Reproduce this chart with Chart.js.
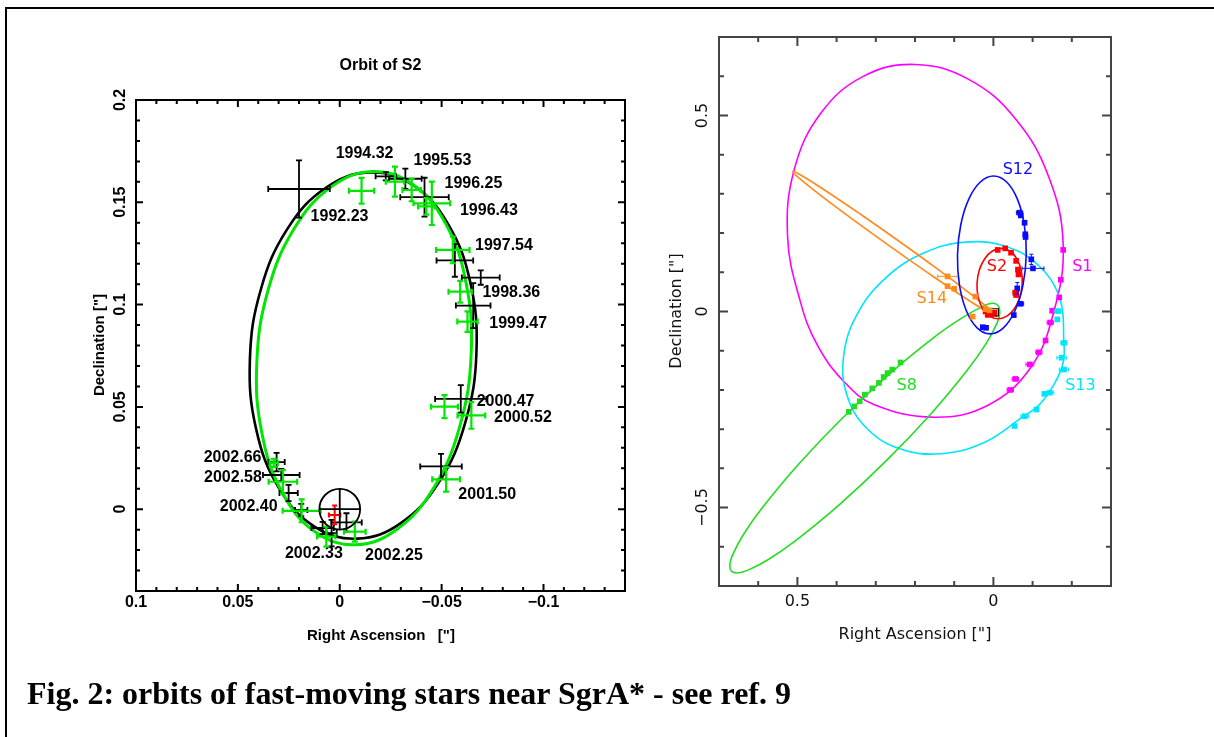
<!DOCTYPE html>
<html><head><meta charset="utf-8">
<script src="https://cdn.jsdelivr.net/npm/chart.js@4.4.0/dist/chart.umd.min.js"></script>
<style>
html,body{margin:0;padding:0;background:#fff;}
#wrap{position:relative;width:1214px;height:737px;overflow:hidden;background:#fff;}
canvas{position:absolute;left:0;top:0;}
#frame{position:absolute;left:5px;top:7px;width:1220px;height:740px;border-left:2px solid #000;border-top:2px solid #000;}
#caption{position:absolute;left:27px;top:677px;font:bold 32px "Liberation Serif","Times New Roman",serif;line-height:32px;color:#000;white-space:nowrap;}
</style></head>
<body>
<div id="wrap">
<div id="frame"></div>
<canvas id="left" width="1214" height="737"></canvas>
<canvas id="right" width="1214" height="737"></canvas>
<div id="caption">Fig. 2: orbits of fast-moving stars near SgrA* - see ref. 9</div>
</div>
<script>
// ---------------- LEFT PANEL DATA (Orbit of S2) ----------------
const s2FitBlackRA  = [0.0441,0.0387,0.0257,0.0070,-0.0145,-0.0356,-0.0529,-0.0640,-0.0671,-0.0617,-0.0487,-0.0300,-0.0085,0.0126,0.0299,0.0410];
const s2FitBlackDec = [0.0731,0.1075,0.1370,0.1570,0.1646,0.1586,0.1398,0.1112,0.0771,0.0427,0.0132,-0.0068,-0.0144,-0.0084,0.0104,0.0390];
const s2FitGreenRA  = [0.0407,0.0352,0.0225,0.0045,-0.0159,-0.0357,-0.0519,-0.0620,-0.0645,-0.0590,-0.0463,-0.0283,-0.0079,0.0119,0.0281,0.0382];
const s2FitGreenDec = [0.0718,0.1069,0.1369,0.1573,0.1650,0.1588,0.1397,0.1106,0.0758,0.0408,0.0107,-0.0097,-0.0174,-0.0112,0.0079,0.0371];

const blackRA     = [0.0200,-0.0226,-0.0322,-0.0416,-0.0565,-0.0692,-0.0655,-0.0594,-0.0497,0.0310,0.0287,0.0251,0.0189,0.0084,0.0040,-0.0033];
const blackDec    = [0.1565,0.1627,0.1615,0.1525,0.1216,0.1132,0.0995,0.0539,0.0209,0.0230,0.0167,0.0079,-0.0004,-0.0092,-0.0117,-0.0065];
const blackErrRA  = [0.0151,0.0050,0.0080,0.0119,0.0090,0.0093,0.0085,0.0126,0.0102,0.0040,0.0090,0.0045,0.0030,0.0055,0.0025,0.0075];
const blackErrDec = [0.0140,0.0020,0.0050,0.0095,0.0080,0.0035,0.0110,0.0067,0.0061,0.0045,0.0030,0.0040,0.0030,0.0030,0.0065,0.0045];

const greenRA     = [-0.0107,-0.0271,-0.0353,-0.0452,-0.0425,-0.0555,-0.0591,-0.0627,-0.0514,-0.0646,-0.0522,0.0324,0.0279,0.0187,0.0066,-0.0074];
const greenDec    = [0.1556,0.1601,0.1560,0.1495,0.1480,0.1267,0.1063,0.0917,0.0501,0.0458,0.0146,0.0226,0.0134,-0.0008,-0.0134,-0.0110];
const greenErrRA  = [0.0062,0.0045,0.0045,0.0090,0.0040,0.0082,0.0057,0.0050,0.0066,0.0068,0.0068,0.0020,0.0070,0.0093,0.0045,0.0053];
const greenErrDec = [0.0063,0.0073,0.0055,0.0106,0.0040,0.0065,0.0053,0.0050,0.0056,0.0065,0.0060,0.0020,0.0057,0.0056,0.0049,0.0049];

const redRA = [0.0025], redDec = [-0.0028], redErrRA = [0.0028], redErrDec = [0.0046];
const sgrRA = 0, sgrDec = 0, sgrRadius = 0.01;

const s2Labels   = ["1994.32","1995.53","1996.25","1996.43","1992.23","1997.54","1998.36","1999.47","2000.47","2000.52","2001.50","2002.66","2002.58","2002.40","2002.33","2002.25"];
const s2LabelRA  = [0.0020,-0.0362,-0.0514,-0.0590,0.0143,-0.0664,-0.0700,-0.0734,-0.0672,-0.0757,-0.0582,0.0668,0.0666,0.0589,0.0269,-0.0124];
const s2LabelDec = [0.1736,0.1706,0.1593,0.1459,0.1431,0.1286,0.1060,0.0905,0.0524,0.0446,0.0069,0.0252,0.0155,0.0015,-0.0215,-0.0229];

const leftXTicks = [0.1,0.05,0,-0.05,-0.1];
const leftXTickLabels = ["0.1","0.05","0","\u22120.05","\u22120.1"];
const leftXMinor = [0.09,0.08,0.07,0.06,0.04,0.03,0.02,0.01,-0.01,-0.02,-0.03,-0.04,-0.06,-0.07,-0.08,-0.09,-0.11,-0.12,-0.13];
const leftYTicks = [0,0.05,0.1,0.15,0.2];
const leftYTickLabels = ["0","0.05","0.1","0.15","0.2"];
const leftYMinor = [-0.03,-0.02,-0.01,0.01,0.02,0.03,0.04,0.06,0.07,0.08,0.09,0.11,0.12,0.13,0.14,0.16,0.17,0.18,0.19];

// ---------------- RIGHT PANEL DATA (several stars) ----------------
const s1OrbitRA  = [0.525,0.5082,0.4404,0.332,0.1995,0.063,-0.0566,-0.1413,-0.178,-0.153,-0.0934,0.015,0.151,0.305,0.382,0.450,0.493];
const s1OrbitDec = [0.190,0.3614,0.5053,0.5996,0.630,0.592,0.4911,0.343,0.170,-0.005,-0.1453,-0.2396,-0.2695,-0.237,-0.178,-0.084,0.027];
const s2OrbitRA  = [0.0418,0.0359,0.0221,0.0025,-0.0199,-0.0417,-0.0595,-0.0707,-0.0736,-0.0677,-0.0539,-0.0343,-0.0119,0.0099,0.0277,0.0389];
const s2OrbitDec = [0.0712,0.1056,0.1347,0.1542,0.1610,0.1542,0.1347,0.1056,0.0712,0.0368,0.0077,-0.0118,-0.0186,-0.0118,0.0077,0.0368];
const s12OrbitRA  = [0.0916,0.0832,0.0628,0.0334,-0.0005,-0.0338,-0.0612,-0.0788,-0.0838,-0.0754,-0.0550,-0.0256,0.0083,0.0416,0.0690,0.0866];
const s12OrbitDec = [0.1443,0.2213,0.2866,0.3303,0.3456,0.3303,0.2866,0.2213,0.1443,0.0673,0.0020,-0.0417,-0.0570,-0.0417,0.0020,0.0673];
const s13OrbitRA  = [0.3821,0.3485,0.2773,0.1792,0.0693,-0.0358,-0.1199,-0.1703,-0.1795,-0.178,-0.155,-0.115,-0.0747,0.0234,0.1333,0.2384,0.3225,0.3729];
const s13OrbitDec = [-0.1138,-0.0089,0.0832,0.1485,0.1770,0.1645,0.1128,0.0299,-0.0718,-0.130,-0.185,-0.240,-0.2688,-0.3341,-0.3626,-0.3501,-0.2984,-0.2155];
const s8OrbitRA  = [0.6681,0.6724,0.6664,0.6381,0.5887,0.4959,0.3829,0.2633,0.1515,0.0809,0.0272,0.0026,-0.0121,-0.0164,-0.0104,0.0179,0.0673,0.1601,0.2731,0.3927,0.5045,0.5751,0.6288,0.6534];
const s8OrbitDec = [-0.6622,-0.6475,-0.6230,-0.5694,-0.4994,-0.3882,-0.2696,-0.1576,-0.0658,-0.0170,0.0130,0.0210,0.0150,-0.0025,-0.0270,-0.0806,-0.1506,-0.2618,-0.3804,-0.4924,-0.5842,-0.6330,-0.6608,-0.6667];
const s14OrbitRA  = [0.5120,0.4939,0.4309,0.3344,0.2451,0.1566,0.0633,0.0053,-0.0080,0.0101,0.0731,0.1696,0.2589,0.3474,0.4407,0.4987];
const s14OrbitDec = [0.3570,0.3492,0.3099,0.2448,0.1823,0.1186,0.0489,0.0024,-0.0120,-0.0042,0.0351,0.1002,0.1627,0.2264,0.2961,0.3426];

const s1PtsRA   = [-0.178,-0.172,-0.168,-0.150,-0.145,-0.133,-0.116,-0.093,-0.056,-0.043];
const s1PtsDec  = [0.157,0.081,0.036,0.002,-0.028,-0.074,-0.104,-0.135,-0.172,-0.200];
const s1PtsErr  = [0,0,0,0,0.008,0,0.008,0.010,0.008,0.008];
const s2PtsRA   = [-0.011,-0.030,-0.045,-0.058,-0.0626,-0.064,-0.0556,-0.058,0.006,0.0144,-0.002,0.020];
const s2PtsDec  = [0.157,0.161,0.150,0.129,0.107,0.0945,0.048,0.042,-0.0074,-0.0087,-0.003,0.000];
const s12PtsRA  = [-0.0667,-0.070,-0.0795,-0.0813,-0.082,-0.0967,-0.101,-0.0608,-0.058,-0.0692,-0.052,0.0187,0.027];
const s12PtsDec = [0.252,0.245,0.2264,0.197,0.190,0.133,0.110,0.059,0.046,0.0197,-0.0092,-0.0416,-0.040];
const s12ErrRA  = [0.008,0,0,0,0,0,0.028,0,0,0.008,0,0,0];
const s12ErrDec = [0,0,0,0,0,0.013,0,0.015,0,0,0,0,0];
const s13PtsRA  = [-0.165,-0.163,-0.180,-0.174,-0.180,-0.144,-0.130,-0.110,-0.080,-0.054];
const s13PtsDec = [0.001,-0.020,-0.080,-0.118,-0.148,-0.207,-0.210,-0.250,-0.267,-0.292];
const s13ErrRA  = [0.010,0,0.008,0.012,0.012,0.010,0,0,0.010,0];
const s8PtsRA   = [0.237,0.258,0.270,0.280,0.292,0.309,0.328,0.341,0.355,0.369];
const s8PtsDec  = [-0.130,-0.148,-0.157,-0.167,-0.182,-0.196,-0.212,-0.229,-0.242,-0.256];
const s14PtsRA  = [0.117,0.117,0.100,0.046,0.053,0.020,0.010];
const s14PtsDec = [0.0895,0.0646,0.058,0.038,-0.013,0.006,0.003];
const s14ErrRA  = [0.025,0,0,0,0,0,0];
const centreRA = [-0.0036], centreDec = [-0.002];

const starNames   = ["S12","S2","S1","S14","S8","S13"];
const starLabelRA = [-0.0626,-0.009,-0.227,0.157,0.221,-0.222];
const starLabelDec= [0.361,0.1136,0.1136,0.031,-0.189,-0.189];
const starColors  = ["#0a0aff","#ff0000","#ff00ff","#ff8a1a","#22dd22","#00e5ff"];

const rightXTicks = [0.5,0];
const rightXTickLabels = ["0.5","0"];
const rightXMinor = [0.6,0.4,0.3,0.2,0.1,-0.1,-0.2];
const rightYTicks = [0.5,0,-0.5];
const rightYTickLabels = ["0.5","0","\u22120.5"];
const rightYMinor = [0.6,0.4,0.3,0.2,0.1,-0.1,-0.2,-0.3,-0.4,-0.6];

// ---------------- helpers ----------------
const W = 1214, H = 737;
const LFONT = 'bold 16px "Liberation Sans", Arial, sans-serif';
const RFONT = '16px "DejaVu Sans", sans-serif';
const GREEN_L = '#00e600';

function pts(xs, ys) { return xs.map((v, i) => ({x: v, y: ys[i]})); }
function loopDataset(xs, ys, color, width, tension) {
  const n = xs.length;
  const idx = [n - 1];
  for (let i = 0; i < n; i++) idx.push(i);
  idx.push(0, 1);
  const data = idx.map(i => ({x: xs[i], y: ys[i]}));
  const last = data.length - 1;
  return { data, showLine: true, borderColor: color, borderWidth: width, pointRadius: 0, tension, fill: false,
    segment: { borderColor: c => (c.p0DataIndex === 0 || c.p1DataIndex === last) ? 'rgba(0,0,0,0)' : undefined } };
}
function crossDataset(xs, ys, ex, ey, color, width, cap) {
  return { data: pts(xs, ys), showLine: false, pointRadius: 0, borderColor: color, backgroundColor: color,
    errX: ex, errY: ey, errColor: color, errWidth: width, cap: cap };
}
function squareDataset(xs, ys, color, ex, ey, r) {
  return { data: pts(xs, ys), showLine: false, pointStyle: 'rect', pointRadius: r, borderWidth: 0,
    backgroundColor: color, borderColor: color, errX: ex, errY: ey, errColor: color, errWidth: 1, cap: 2 };
}
function drawText(ctx, t, x, y, font, color, align, rot) {
  ctx.save();
  ctx.font = font; ctx.fillStyle = color; ctx.textAlign = align || 'center'; ctx.textBaseline = 'middle';
  ctx.translate(x, y);
  if (rot) ctx.rotate(rot);
  ctx.fillText(t, 0, 0);
  ctx.restore();
}
function makeDecor(cfg) {
  return {
    id: 'decor' + cfg.name,
    beforeDatasetsDraw(chart) {
      const ctx = chart.ctx, sx = chart.scales.x, sy = chart.scales.y;
      (cfg.dataTexts || []).filter(d => d.layer === 'before').forEach(d => {
        d.text.forEach((t, i) => drawText(ctx, t, sx.getPixelForValue(d.x[i]), sy.getPixelForValue(d.y[i]), d.font,
          d.colors ? d.colors[i] : d.color, d.align));
      });
    },
    afterDatasetsDraw(chart) {
      const ctx = chart.ctx, a = chart.chartArea, sx = chart.scales.x, sy = chart.scales.y;
      ctx.save();
      const dss = chart.data.datasets;
      for (let i = dss.length - 1; i >= 0; i--) {
        const ds = dss[i];
        if (!ds.errX && !ds.errY) continue;
        ctx.strokeStyle = ds.errColor; ctx.lineWidth = ds.errWidth; ctx.lineCap = 'butt';
        const cap = ds.cap;
        ctx.beginPath();
        ds.data.forEach((p, j) => {
          const px = sx.getPixelForValue(p.x), py = sy.getPixelForValue(p.y);
          const ex = ds.errX ? ds.errX[j] : 0, ey = ds.errY ? ds.errY[j] : 0;
          if (ex > 0) {
            const x1 = sx.getPixelForValue(p.x - ex), x2 = sx.getPixelForValue(p.x + ex);
            ctx.moveTo(x1, py); ctx.lineTo(x2, py);
            ctx.moveTo(x1, py - cap); ctx.lineTo(x1, py + cap);
            ctx.moveTo(x2, py - cap); ctx.lineTo(x2, py + cap);
          }
          if (ey > 0) {
            const y1 = sy.getPixelForValue(p.y - ey), y2 = sy.getPixelForValue(p.y + ey);
            ctx.moveTo(px, y1); ctx.lineTo(px, y2);
            ctx.moveTo(px - cap, y1); ctx.lineTo(px + cap, y1);
            ctx.moveTo(px - cap, y2); ctx.lineTo(px + cap, y2);
          }
        });
        ctx.stroke();
      }
      if (cfg.circle) {
        const c = cfg.circle;
        const cx = sx.getPixelForValue(c.x), cy = sy.getPixelForValue(c.y);
        const r = Math.abs(sx.getPixelForValue(c.x + c.r) - cx);
        const ry = Math.abs(sy.getPixelForValue(c.y + c.r) - cy);
        ctx.strokeStyle = '#000'; ctx.lineWidth = 1.8;
        ctx.beginPath(); ctx.arc(cx, cy, r, 0, Math.PI * 2); ctx.stroke();
        ctx.beginPath(); ctx.moveTo(cx - r, cy); ctx.lineTo(cx + r, cy); ctx.moveTo(cx, cy - ry); ctx.lineTo(cx, cy + ry); ctx.stroke();
      }
      const t = cfg.ticks;
      ctx.strokeStyle = t.color; ctx.lineWidth = t.width;
      ctx.strokeRect(a.left, a.top, a.right - a.left, a.bottom - a.top);
      ctx.beginPath();
      const xt = (vals, len) => vals.forEach(v => { const p = sx.getPixelForValue(v);
        ctx.moveTo(p, a.bottom); ctx.lineTo(p, a.bottom - len); ctx.moveTo(p, a.top); ctx.lineTo(p, a.top + len); });
      const yt = (vals, len) => vals.forEach(v => { const p = sy.getPixelForValue(v);
        ctx.moveTo(a.left, p); ctx.lineTo(a.left + len, p); ctx.moveTo(a.right, p); ctx.lineTo(a.right - len, p); });
      xt(t.xMajor, t.majorLen); xt(t.xMinor, t.minorLen); yt(t.yMajor, t.majorLen); yt(t.yMinor, t.minorLen);
      ctx.stroke();
      t.xMajor.forEach((v, i) => drawText(ctx, t.xLabels[i], sx.getPixelForValue(v), t.xLabelY, cfg.font, cfg.textColor, 'center'));
      t.yMajor.forEach((v, i) => drawText(ctx, t.yLabels[i], t.yLabelX, sy.getPixelForValue(v), cfg.font, cfg.textColor, 'center', -Math.PI / 2));
      cfg.titles.forEach(o => drawText(ctx, o.text, o.x, o.y, o.font || cfg.font, cfg.textColor, 'center', o.rot || 0));
      ctx.restore();
      (cfg.dataTexts || []).filter(d => d.layer === 'after').forEach(d => {
        d.text.forEach((tx, i) => drawText(ctx, tx, sx.getPixelForValue(d.x[i]), sy.getPixelForValue(d.y[i]), d.font,
          d.colors ? d.colors[i] : d.color, d.align));
      });
    }
  };
}
function baseOptions(area, xr, yr) {
  return {
    responsive: false, animation: false, devicePixelRatio: 1, events: [],
    layout: { padding: { left: area.left, top: area.top, right: W - area.right, bottom: H - area.bottom } },
    scales: {
      x: { type: 'linear', min: xr[0], max: xr[1], reverse: true, display: false },
      y: { type: 'linear', min: yr[0], max: yr[1], display: false }
    },
    plugins: { legend: { display: false }, tooltip: { enabled: false }, title: { display: false } }
  };
}

// ---------------- LEFT CHART ----------------
new Chart(document.getElementById('left'), {
  type: 'scatter',
  data: { datasets: [
    loopDataset(s2FitGreenRA, s2FitGreenDec, GREEN_L, 3, 0.4),
    loopDataset(s2FitBlackRA, s2FitBlackDec, '#000', 2.6, 0.4),
    crossDataset(redRA, redDec, redErrRA, redErrDec, '#ff0000', 2, 2.5),
    crossDataset(greenRA, greenDec, greenErrRA, greenErrDec, GREEN_L, 2.2, 3),
    crossDataset(blackRA, blackDec, blackErrRA, blackErrDec, '#000', 1.8, 3)
  ]},
  options: baseOptions({left: 136, top: 100, right: 625, bottom: 591}, [-0.14, 0.1], [-0.04, 0.2]),
  plugins: [makeDecor({
    name: 'L', font: LFONT, textColor: '#000',
    ticks: { color: '#000', width: 2, majorLen: 7, minorLen: 4,
      xMajor: leftXTicks, xMinor: leftXMinor, yMajor: leftYTicks, yMinor: leftYMinor,
      xLabels: leftXTickLabels, yLabels: leftYTickLabels, xLabelY: 603, yLabelX: 121 },
    circle: { x: sgrRA, y: sgrDec, r: sgrRadius },
    titles: [
      { text: 'Orbit of S2', x: 380.5, y: 66 },
      { text: 'Right Ascension   ["]', x: 381, y: 636, font: 'bold 15px "Liberation Sans", Arial, sans-serif' },
      { text: 'Declination ["]', x: 100, y: 345, rot: -Math.PI / 2, font: 'bold 15px "Liberation Sans", Arial, sans-serif' }
    ],
    dataTexts: [{ layer: 'before', text: s2Labels, x: s2LabelRA, y: s2LabelDec, font: LFONT, color: '#000', align: 'left' }]
  })]
});

// ---------------- RIGHT CHART ----------------
new Chart(document.getElementById('right'), {
  type: 'scatter',
  data: { datasets: [
    squareDataset(s14PtsRA, s14PtsDec, '#ff8a1a', s14ErrRA, null, 4),
    squareDataset(s2PtsRA, s2PtsDec, '#ff0000', null, null, 4),
    squareDataset(s12PtsRA, s12PtsDec, '#0a0aff', s12ErrRA, s12ErrDec, 4),
    squareDataset(s1PtsRA, s1PtsDec, '#ff00ff', s1PtsErr, null, 4),
    squareDataset(s13PtsRA, s13PtsDec, '#00e5ff', s13ErrRA, null, 4),
    squareDataset(s8PtsRA, s8PtsDec, '#22dd22', null, null, 4),
    { data: pts(centreRA, centreDec), showLine: false, pointStyle: 'rect', pointRadius: 5, borderWidth: 1.2,
      borderColor: '#000', backgroundColor: 'rgba(0,0,0,0)' },
    loopDataset(s12OrbitRA, s12OrbitDec, '#0a0aff', 1.6, 0.4),
    loopDataset(s2OrbitRA, s2OrbitDec, '#ff0000', 1.6, 0.4),
    loopDataset(s14OrbitRA, s14OrbitDec, '#ff8a1a', 1.6, 0.4),
    loopDataset(s8OrbitRA, s8OrbitDec, '#22dd22', 1.6, 0.4),
    loopDataset(s13OrbitRA, s13OrbitDec, '#00e5ff', 1.6, 0.4),
    loopDataset(s1OrbitRA, s1OrbitDec, '#ff00ff', 1.6, 0.4)
  ]},
  options: baseOptions({left: 719, top: 37, right: 1111, bottom: 586}, [-0.3, 0.7], [-0.7, 0.7]),
  plugins: [makeDecor({
    name: 'R', font: RFONT, textColor: '#111',
    ticks: { color: '#444', width: 2, majorLen: 9, minorLen: 5,
      xMajor: rightXTicks, xMinor: rightXMinor, yMajor: rightYTicks, yMinor: rightYMinor,
      xLabels: rightXTickLabels, yLabels: rightYTickLabels, xLabelY: 602, yLabelX: 703 },
    titles: [
      { text: 'Right Ascension ["]', x: 915, y: 635 },
      { text: 'Declination ["]', x: 677, y: 311, rot: -Math.PI / 2 }
    ],
    dataTexts: [{ layer: 'after', text: starNames, x: starLabelRA, y: starLabelDec, font: RFONT, colors: starColors, align: 'center' }]
  })]
});
</script>
</body></html>
